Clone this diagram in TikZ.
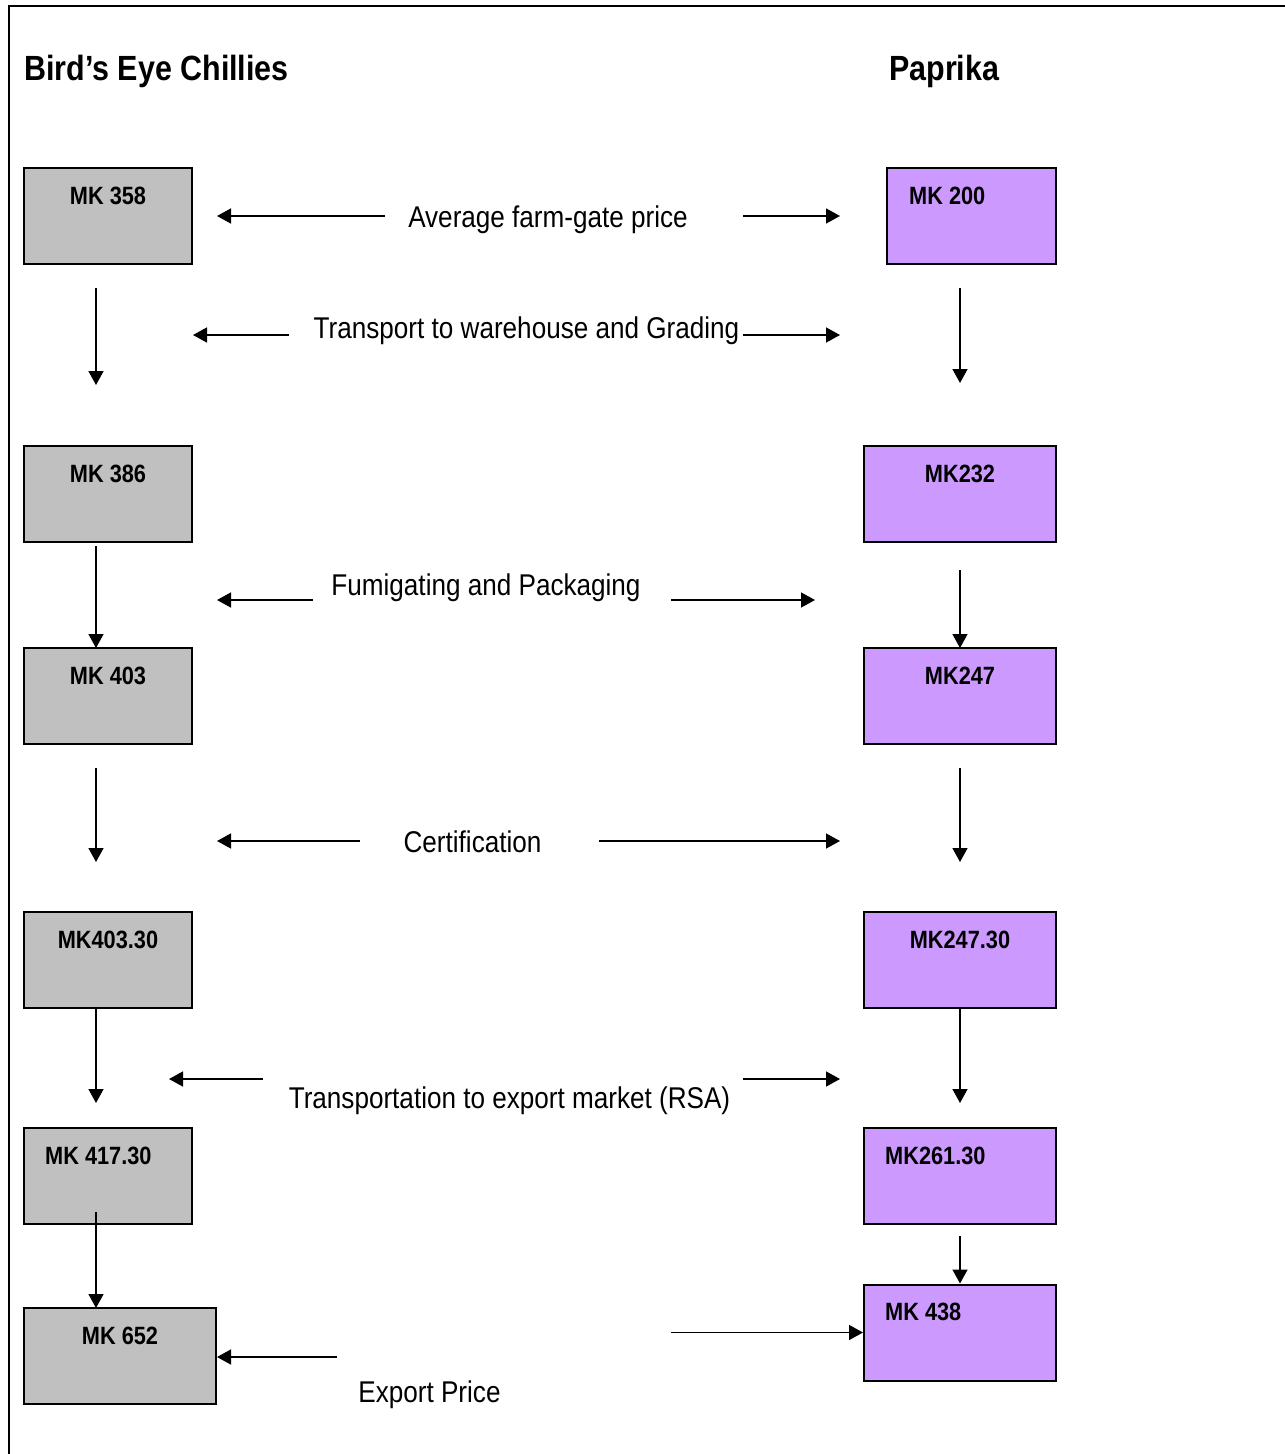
\documentclass[tikz,border=0pt]{standalone}
\usepackage{fontspec}
\usetikzlibrary{arrows.meta}
\newfontfamily\narrowfont{Liberation Sans}[FakeStretch=0.87]
\definecolor{boxgrey}{HTML}{C0C0C0}
\definecolor{boxpurple}{HTML}{CC99FF}
\tikzset{
  pricebox/.style={draw=black, line width=2pt, minimum width=#1, minimum height=96pt, inner sep=0pt},
  greybox/.style={pricebox=168pt, fill=boxgrey},
  purplebox/.style={pricebox=192pt, fill=boxpurple},
  boxtext/.style={inner sep=0pt, font=\narrowfont\bfseries\fontsize{25}{30}\selectfont},
  headtext/.style={inner sep=0pt, anchor=base west, font=\narrowfont\bfseries\fontsize{35}{42}\selectfont},
  steptext/.style={inner sep=0pt, anchor=base, font=\narrowfont\fontsize{30}{36}\selectfont},
  flow/.style={draw=black, line width=1.5pt, -{Triangle[length=14pt,width=15pt]}}
}
\begin{document}
\begin{tikzpicture}[x=1pt,y=-1pt]
\useasboundingbox (0,0) rectangle (1285,1454);
% frame
\draw[line width=2.2pt] (9,1460) -- (9,6) -- (1290,6);

% headers
\node[headtext] (hL) at (24,80) {Bird’s Eye Chillies};
\node[headtext] (hR) at (889,80) {Paprika};

% left boxes
\node[greybox] (L1) at (108,216) {};
\node[greybox] (L2) at (108,493.5) {};
\node[greybox] (L3) at (108,696) {};
\node[greybox] (L4) at (108,960) {};
\node[greybox] (L5) at (108,1176) {};
\node[pricebox=192pt, fill=boxgrey] (L6) at (120,1356) {};
% right boxes
\node[pricebox=169pt, fill=boxpurple] (R1) at (971.5,216) {};
\node[purplebox] (R2) at (960,493.5) {};
\node[purplebox] (R3) at (960,696) {};
\node[purplebox] (R4) at (960,960) {};
\node[purplebox] (R5) at (960,1176) {};
\node[purplebox] (R6) at (960,1332.5) {};

% box texts
\node[boxtext, anchor=base] (L1t) at (108,204) {MK 358};
\node[boxtext, anchor=base] (L2t) at (108,482) {MK 386};
\node[boxtext, anchor=base] (L3t) at (108,684) {MK 403};
\node[boxtext, anchor=base] (L4t) at (108,948) {MK403.30};
\node[boxtext, anchor=base west] (L5t) at (45,1164) {MK 417.30};
\node[boxtext, anchor=base] (L6t) at (120,1344) {MK 652};
\node[boxtext, anchor=base west] (R1t) at (909,204) {MK 200};
\node[boxtext, anchor=base] (R2t) at (960,482) {MK232};
\node[boxtext, anchor=base] (R3t) at (960,684) {MK247};
\node[boxtext, anchor=base] (R4t) at (960,948) {MK247.30};
\node[boxtext, anchor=base west] (R5t) at (885,1164) {MK261.30};
\node[boxtext, anchor=base west] (R6t) at (885,1320) {MK 438};

% step labels
\node[steptext] (s1) at (548,227) {Average farm-gate price};
\node[steptext] (s2) at (526.5,338) {Transport to warehouse and Grading};
\node[steptext] (s3) at (486,595) {Fumigating and Packaging};
\node[steptext] (s4) at (472.5,852) {Certification};
\node[steptext] (s5) at (509.5,1108) {Transportation to export market (RSA)};
\node[steptext] (s6) at (429.5,1402) {Export Price};

% coordinates for free arrow ends
\coordinate (v1a) at (96,288);  \coordinate (v1b) at (96,385);
\coordinate (w1a) at (960,288); \coordinate (w1b) at (960,383);
\coordinate (v2a) at (96,546);
\coordinate (w2a) at (960,570);
\coordinate (v3a) at (96,768);  \coordinate (v3b) at (96,862);
\coordinate (w3a) at (960,768); \coordinate (w3b) at (960,862);
\coordinate (v4a) at (96,1008); \coordinate (v4b) at (96,1103);
\coordinate (w4a) at (960,1008);\coordinate (w4b) at (960,1103);
\coordinate (v5a) at (96,1212);
\coordinate (w5a) at (960,1236);

\coordinate (h1a) at (385,216); \coordinate (h1b) at (217,216);
\coordinate (k1a) at (743,216); \coordinate (k1b) at (840,216);
\coordinate (h2a) at (289,335); \coordinate (h2b) at (193,335);
\coordinate (k2a) at (743,335); \coordinate (k2b) at (840,335);
\coordinate (h3a) at (313,600); \coordinate (h3b) at (217,600);
\coordinate (k3a) at (671,600); \coordinate (k3b) at (815,600);
\coordinate (h4a) at (360,841); \coordinate (h4b) at (217,841);
\coordinate (k4a) at (599,841); \coordinate (k4b) at (840,841);
\coordinate (h5a) at (263,1079);\coordinate (h5b) at (169,1079);
\coordinate (k5a) at (743,1079);\coordinate (k5b) at (840,1079);
\coordinate (h6a) at (337,1357);
\coordinate (k6a) at (671,1332.5);

% vertical arrows
\draw[flow] (v1a) -- (v1b);
\draw[flow] (w1a) -- (w1b);
\draw[flow] (v2a) -- (96,648);
\draw[flow] (w2a) -- (960,648);
\draw[flow] (v3a) -- (v3b);
\draw[flow] (w3a) -- (w3b);
\draw[flow] (v4a) -- (v4b);
\draw[flow] (w4a) -- (w4b);
\draw[flow] (v5a) -- (96,1308);
\draw[flow] (w5a) -- (R6.north);

% horizontal arrows
\draw[flow] (h1a) -- (h1b);
\draw[flow] (k1a) -- (k1b);
\draw[flow] (h2a) -- (h2b);
\draw[flow] (k2a) -- (k2b);
\draw[flow] (h3a) -- (h3b);
\draw[flow] (k3a) -- (k3b);
\draw[flow] (h4a) -- (h4b);
\draw[flow] (k4a) -- (k4b);
\draw[flow] (h5a) -- (h5b);
\draw[flow] (k5a) -- (k5b);
\draw[flow] (h6a) -- (L6.east |- h6a);
\draw[flow] (k6a) -- (R6.west);
\end{tikzpicture}
\end{document}
